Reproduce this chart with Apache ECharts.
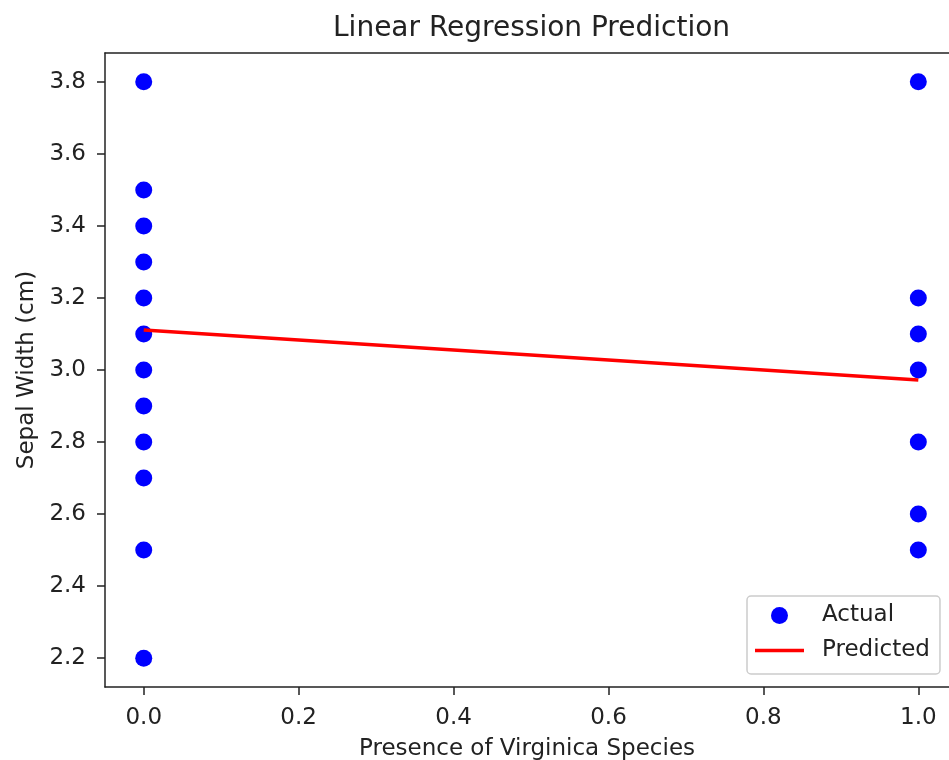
<!DOCTYPE html>
<html>
<head>
<meta charset="utf-8">
<script src="https://cdn.jsdelivr.net/npm/echarts@6/dist/echarts.min.js"></script>
<style>
  html, body { margin: 0; padding: 0; background: #fff; }
  #chart { width: 949px; height: 760px; }
</style>
</head>
<body>
<div id="chart"></div>
<script>
// observed points
const actualX0 = [3.8, 3.5, 3.4, 3.3, 3.2, 3.1, 3.0, 2.9, 2.8, 2.7, 2.5, 2.2];
const actualX1 = [3.8, 3.2, 3.1, 3.0, 2.8, 2.6, 2.5];
// regression line end points
const predictedX = [0, 1];
const predictedY = [3.111, 2.972];
// tick labels
const xTicks = [0.0, 0.2, 0.4, 0.6, 0.8, 1.0];
const yTicks = [2.2, 2.4, 2.6, 2.8, 3.0, 3.2, 3.4, 3.6, 3.8];

const font = "DejaVu Sans";
const textColor = "#222";
const spine = { color: "#222", width: 1.5 };

const actualData = actualX0.map((y) => [0, y]).concat(actualX1.map((y) => [1, y]));
const predictedData = predictedX.map((x, i) => [x, predictedY[i]]);

const chart = echarts.init(document.getElementById("chart"));

const options = {
  backgroundColor: "#fff",
  animation: false,
  title: {
    text: "Linear Regression Prediction",
    left: 328,
    top: 10,
    textStyle: { fontFamily: font, fontSize: 28, fontWeight: "normal", color: textColor },
  },
  legend: {
    orient: "vertical",
    left: 747,
    top: 596,
    padding: [8, 10, 12, 8],
    itemWidth: 49,
    itemHeight: 17,
    itemGap: 12,
    borderColor: "#cccccc",
    borderWidth: 1.5,
    borderRadius: 4,
    backgroundColor: "rgba(255,255,255,0.8)",
    textStyle: { fontFamily: font, fontSize: 23, color: textColor, padding: [0, 0, 0, 13] },
    data: [
      { name: "Actual", icon: "circle" },
      { name: "Predicted", icon: "path://M0,0H100V7H0Z" },
    ],
  },
  // the plot box runs past the right edge of the picture, as in the source image
  grid: {
    left: 105,
    top: 53,
    width: 844,
    height: 634,
    outerBoundsMode: "none",
    show: false,
  },
  xAxis: [
    {
      type: "value",
      min: -0.05,
      max: 1.0396,
      name: "Presence of Virginica Species",
      nameLocation: "middle",
      nameGap: 51,
      nameTextStyle: { fontFamily: font, fontSize: 23, color: textColor },
      axisLine: { show: true, onZero: false, lineStyle: spine },
      axisTick: { show: true, length: 8, lineStyle: spine, customValues: xTicks },
      axisLabel: {
        customValues: xTicks,
        margin: 20,
        fontFamily: font,
        fontSize: 23,
        color: textColor,
        formatter: (v) => v.toFixed(1),
      },
      splitLine: { show: false },
    },
    {
      type: "value",
      position: "top",
      min: -0.05,
      max: 1.0396,
      axisLine: { show: true, onZero: false, lineStyle: spine },
      axisTick: { show: false },
      axisLabel: { show: false },
      splitLine: { show: false },
    },
  ],
  yAxis: {
    type: "value",
    min: 2.12,
    max: 3.88,
    name: "Sepal Width (cm)",
    nameLocation: "middle",
    nameGap: 64,
    nameTextStyle: { fontFamily: font, fontSize: 23, color: textColor },
    axisLine: { show: true, onZero: false, lineStyle: spine },
    axisTick: { show: true, length: 8, lineStyle: spine, customValues: yTicks },
    axisLabel: {
      customValues: yTicks,
      margin: 19,
      fontFamily: font,
      fontSize: 23,
      color: textColor,
      formatter: (v) => v.toFixed(1),
    },
    splitLine: { show: false },
  },
  series: [
    {
      name: "Actual",
      type: "scatter",
      symbol: "circle",
      symbolSize: 17,
      itemStyle: { color: "#0000ff", opacity: 1 },
      data: actualData,
      z: 2,
    },
    {
      name: "Predicted",
      type: "line",
      symbol: "none",
      lineStyle: { color: "#ff0000", width: 3.5 },
      itemStyle: { color: "#ff0000" },
      data: predictedData,
      z: 3,
    },
  ],
};

chart.setOption(options);
</script>
</body>
</html>
